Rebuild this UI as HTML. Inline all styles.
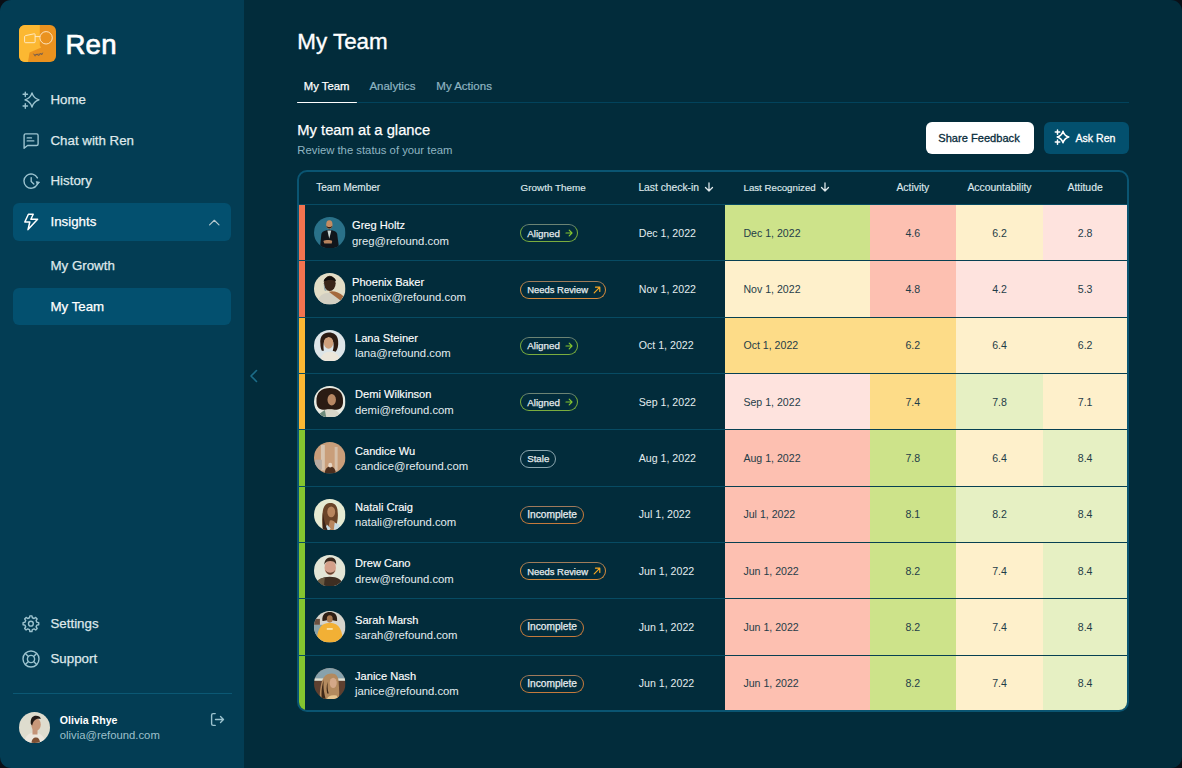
<!DOCTYPE html>
<html><head><meta charset="utf-8"><style>
html,body{margin:0;padding:0;width:1182px;height:768px;overflow:hidden;background:#0a0f16}
.app{position:absolute;left:0;top:0;width:1182px;height:768px;border-radius:11px;overflow:hidden;font-family:"Liberation Sans", sans-serif}
.t{position:absolute;white-space:nowrap;line-height:normal}
</style></head><body><div class="app">
<div style="position:absolute;left:0;top:0;width:244px;height:768px;background:#033d54"></div><svg style="position:absolute;left:19px;top:25px" width="37" height="37" viewBox="0 0 37 37">
<defs><clipPath id="lc"><rect width="37" height="37" rx="6"/></clipPath></defs>
<g clip-path="url(#lc)">
<rect width="37" height="37" fill="#ea921f"/>
<path d="M0 0 H20.8 V20.5 L22.2 22.6 L10.6 27.4 L9 37 H0 Z" fill="#fcb832"/>
</g>
<path d="M6.6 10.6 Q5.6 10.8 5.6 11.8 V16.8 Q5.6 17.7 6.6 17.7 H15.2 Q16.1 17.7 16.1 16.8 V9.6 Q16.1 8.6 15.1 8.8 Z" fill="none" stroke="#fff1d8" stroke-width="0.85" stroke-linejoin="round"/>
<line x1="16.1" y1="11.6" x2="20.9" y2="11.6" stroke="#fff1d8" stroke-width="0.85"/>
<circle cx="27.1" cy="12.8" r="6.2" fill="none" stroke="#fff1d8" stroke-width="0.85"/>
<path d="M14.4 28.6 L16.2 31.2 L17.9 28.9 L19.6 31 L21.4 28.4 L22.8 29.9 L23.8 27.6 M15.2 29.8 L23.2 28.7" fill="none" stroke="#6e5b52" stroke-width="0.75" stroke-linejoin="round"/>
</svg><div class="t" style="left:65.4px;top:28.82px;font-size:27.6px;color:#ffffff;font-weight:normal;-webkit-text-stroke:0.7px #fff;letter-spacing:0.3px;">Ren</div>
<div style="position:absolute;left:12.7px;top:203px;width:218.5px;height:37.8px;border-radius:6px;background:#03506f"></div><div style="position:absolute;left:12.7px;top:288px;width:218.5px;height:36.7px;border-radius:6px;background:#03506f"></div><svg style="position:absolute;left:21px;top:91px" width="20" height="20" viewBox="0 0 20 20">
<path d="M11 1.9 Q12.6 7.3 18 8.9 Q12.6 10.5 11 16 Q9.4 10.5 4 8.9 Q9.4 7.3 11 1.9 Z" stroke="#9cc3cf" stroke-width="1.4" fill="none" stroke-linecap="round" stroke-linejoin="round"/>
<path d="M4.3 1.1 v4.4 M2.1 3.3 h4.4 M4.3 12.8 v4.4 M2.1 15 h4.4" stroke="#9cc3cf" stroke-width="1.4" fill="none" stroke-linecap="round" stroke-linejoin="round"/>
</svg><svg style="position:absolute;left:21px;top:132px" width="20" height="20" viewBox="0 0 20 20">
<path d="M3.1 16.2 V3.4 Q3.1 1.9 4.6 1.9 H15.6 Q17.1 1.9 17.1 3.4 V12 Q17.1 13.5 15.6 13.5 H6.5 Z" stroke="#9cc3cf" stroke-width="1.4" fill="none" stroke-linecap="round" stroke-linejoin="round"/>
<path d="M6.2 5.9 h4.3 M6.2 8.9 h6.6" stroke="#9cc3cf" stroke-width="1.4" fill="none" stroke-linecap="round" stroke-linejoin="round"/>
</svg><svg style="position:absolute;left:21px;top:172px" width="20" height="20" viewBox="0 0 20 20">
<path d="M16.2 12.6 A7.1 7.1 0 1 1 16.4 5.9" stroke="#9cc3cf" stroke-width="1.4" fill="none" stroke-linecap="round" stroke-linejoin="round"/>
<path d="M10.2 5.6 V9.6 L12.8 12" stroke="#9cc3cf" stroke-width="1.4" fill="none" stroke-linecap="round" stroke-linejoin="round"/>
<path d="M15.2 9.6 L18.6 10.2 L16.3 12.9 Z" fill="#9cc3cf" stroke="#9cc3cf" stroke-width="0.8" stroke-linejoin="round"/>
</svg><svg style="position:absolute;left:21px;top:212px" width="20" height="20" viewBox="0 0 20 20">
<path d="M7.4 2.3 H12.2 L9.9 7.3 H16.6 L7 17.6 L8.8 10 H3.8 Z" stroke="#ffffff" stroke-width="1.5" fill="none" stroke-linejoin="round"/>
</svg><svg style="position:absolute;left:207px;top:216px" width="14" height="12" viewBox="0 0 14 12">
<path d="M2.6 8.9 L7.3 4.3 L12 8.9" stroke="#b5c8ce" stroke-width="1.2" fill="none" stroke-linecap="round" stroke-linejoin="round"/>
</svg><svg style="position:absolute;left:21px;top:614px" width="20" height="20" viewBox="0 0 20 20">
<circle cx="9.9" cy="9.7" r="2.4" stroke="#9cc3cf" stroke-width="1.4" fill="none" stroke-linecap="round" stroke-linejoin="round"/>
<path d="M8.48 3.77 L8.85 1.87 L10.95 1.87 L11.32 3.77 L13.09 4.50 L14.69 3.42 L16.18 4.91 L15.10 6.51 L15.83 8.28 L17.73 8.65 L17.73 10.75 L15.83 11.12 L15.10 12.89 L16.18 14.49 L14.69 15.98 L13.09 14.90 L11.32 15.63 L10.95 17.53 L8.85 17.53 L8.48 15.63 L6.71 14.90 L5.11 15.98 L3.62 14.49 L4.70 12.89 L3.97 11.12 L2.07 10.75 L2.07 8.65 L3.97 8.28 L4.70 6.51 L3.62 4.91 L5.11 3.42 L6.71 4.50 Z" stroke="#9cc3cf" stroke-width="1.4" fill="none" stroke-linecap="round" stroke-linejoin="round"/>
</svg><svg style="position:absolute;left:21px;top:649px" width="20" height="20" viewBox="0 0 20 20">
<circle cx="10" cy="10" r="8" stroke="#9cc3cf" stroke-width="1.4" fill="none" stroke-linecap="round" stroke-linejoin="round"/>
<circle cx="10" cy="10" r="3.6" stroke="#9cc3cf" stroke-width="1.4" fill="none" stroke-linecap="round" stroke-linejoin="round"/>
<path d="M4.4 4.4 L7.4 7.4 M15.6 4.4 L12.6 7.4 M4.4 15.6 L7.4 12.6 M15.6 15.6 L12.6 12.6" stroke="#9cc3cf" stroke-width="1.4" fill="none" stroke-linecap="round" stroke-linejoin="round"/>
</svg><div class="t" style="left:50.5px;top:92.16px;font-size:13.3px;color:#dfe8eb;font-weight:normal;-webkit-text-stroke:0.25px #dfe8eb;">Home</div>
<div class="t" style="left:50.5px;top:132.76px;font-size:13.3px;color:#dfe8eb;font-weight:normal;-webkit-text-stroke:0.25px #dfe8eb;">Chat with Ren</div>
<div class="t" style="left:50.5px;top:172.96px;font-size:13.3px;color:#dfe8eb;font-weight:normal;-webkit-text-stroke:0.25px #dfe8eb;">History</div>
<div class="t" style="left:50.5px;top:214.16px;font-size:13.3px;color:#ffffff;font-weight:normal;-webkit-text-stroke:0.25px #ffffff;">Insights</div>
<div class="t" style="left:50.5px;top:258.36px;font-size:13.3px;color:#dfe8eb;font-weight:normal;-webkit-text-stroke:0.25px #dfe8eb;">My Growth</div>
<div class="t" style="left:50.5px;top:298.96px;font-size:13.3px;color:#ffffff;font-weight:normal;-webkit-text-stroke:0.25px #ffffff;">My Team</div>
<div class="t" style="left:50.5px;top:616.16px;font-size:13.3px;color:#dfe8eb;font-weight:normal;-webkit-text-stroke:0.25px #dfe8eb;">Settings</div>
<div class="t" style="left:50.5px;top:650.96px;font-size:13.3px;color:#dfe8eb;font-weight:normal;-webkit-text-stroke:0.25px #dfe8eb;">Support</div>
<div style="position:absolute;left:12.7px;top:692.6px;width:219px;height:1px;background:#0b5874"></div><svg style="position:absolute;left:18.8px;top:711.6px" width="31" height="31" viewBox="0 0 31 31">
<defs><clipPath id="ua"><circle cx="15.5" cy="15.5" r="15.5"/></clipPath></defs>
<g clip-path="url(#ua)">
<rect width="31" height="31" fill="#dedcce"/>
<path d="M5 31 C6 24 10 20.5 15 20.5 C20 20.5 25 23 27 31 Z" fill="#ece6dc"/>
<rect x="13.5" y="15.5" width="5" height="7" fill="#c49478"/>
<ellipse cx="17" cy="12.5" rx="4.8" ry="6.2" fill="#c9987a"/>
<path d="M11.8 12 C11 6 14 3.8 17 3.8 C19.5 3.8 21.5 5 21.8 7 C18.5 6.2 14.5 7 13.2 13.5 Z" fill="#231a16"/>
<path d="M12.5 31 C12.5 27.5 14.5 25.5 17 25.5 C19.5 25.5 21 27.5 21 31 Z" fill="#7e5034"/>
</g></svg><div class="t" style="left:59.8px;top:714.31px;font-size:10.6px;color:#ffffff;font-weight:bold;">Olivia Rhye</div>
<div class="t" style="left:59.8px;top:728.77px;font-size:11.3px;color:#9dc0cb;font-weight:normal;">olivia@refound.com</div>
<svg style="position:absolute;left:208px;top:711px" width="18" height="17" viewBox="0 0 18 17">
<path d="M7.2 2.6 H5.2 Q3.6 2.6 3.6 4.2 V12.8 Q3.6 14.4 5.2 14.4 H7.2" stroke="#9cc3cf" stroke-width="1.4" fill="none" stroke-linecap="round" stroke-linejoin="round"/>
<path d="M7.5 8.5 H15.5 M12.5 5.5 L15.5 8.5 L12.5 11.5" stroke="#9cc3cf" stroke-width="1.4" fill="none" stroke-linecap="round" stroke-linejoin="round"/>
</svg><div style="position:absolute;left:244px;top:0;width:938px;height:768px;background:#022c3b"></div><svg style="position:absolute;left:247px;top:368px" width="14" height="16" viewBox="0 0 14 16">
<path d="M9.5 2.5 L4 8 L9.5 13.5" stroke="#1c6c88" stroke-width="1.6" fill="none" stroke-linecap="round" stroke-linejoin="round"/>
</svg><div class="t" style="left:297.3px;top:28.53px;font-size:22.4px;color:#ffffff;font-weight:normal;-webkit-text-stroke:0.35px #fff;">My Team</div>
<div class="t" style="left:303.8px;top:79.77px;font-size:11.3px;color:#ffffff;font-weight:normal;-webkit-text-stroke:0.25px #fff;">My Team</div>
<div class="t" style="left:369.4px;top:79.59px;font-size:11.5px;color:#8fb5c2;font-weight:normal;-webkit-text-stroke:0.2px #8fb5c2;">Analytics</div>
<div class="t" style="left:436.3px;top:79.59px;font-size:11.5px;color:#8fb5c2;font-weight:normal;-webkit-text-stroke:0.2px #8fb5c2;">My Actions</div>
<div style="position:absolute;left:357px;top:101.6px;width:772px;height:1.8px;background:#02435c"></div><div style="position:absolute;left:297px;top:101.6px;width:60px;height:1.8px;background:#ffffff;border-radius:1px"></div><div class="t" style="left:297.3px;top:122.05px;font-size:14.75px;color:#ffffff;font-weight:normal;-webkit-text-stroke:0.25px #fff;">My team at a glance</div>
<div class="t" style="left:297.3px;top:144.07px;font-size:11.3px;color:#8fb5c2;font-weight:normal;">Review the status of your team</div>
<div style="position:absolute;left:925.5px;top:122px;width:108.5px;height:31.5px;border-radius:6px;background:#ffffff"></div><div class="t" style="left:938.3px;top:131.55px;font-size:11.1px;color:#072c3b;font-weight:normal;-webkit-text-stroke:0.3px #072c3b;">Share Feedback</div>
<div style="position:absolute;left:1043.5px;top:122px;width:85.5px;height:31.5px;border-radius:6px;background:#03506e"></div><svg style="position:absolute;left:1053px;top:127.9px" width="18" height="18" viewBox="0 0 18 18">
<path d="M10 3.2 Q11.3 7.7 15.8 9 Q11.3 10.3 10 14.8 Q8.7 10.3 4.2 9 Q8.7 7.7 10 3.2 Z" stroke="#fff" stroke-width="1.5" fill="none" stroke-linejoin="round"/>
<path d="M4.5 1.9 v4.4 M2.3 4.1 h4.4 M4.5 11.9 v4.4 M2.3 14.1 h4.4" stroke="#fff" stroke-width="1.5" fill="none" stroke-linecap="round"/>
</svg><div class="t" style="left:1075.4px;top:132.01px;font-size:10.6px;color:#ffffff;font-weight:normal;-webkit-text-stroke:0.3px #fff;">Ask Ren</div>
<div style="position:absolute;left:297px;top:170px;width:832px;height:542px;box-sizing:border-box;border:2px solid #0a5572;border-radius:10px;overflow:hidden"><div class="t" style="left:17.19999999999999px;top:9.95px;font-size:10px;color:#dfe8eb;font-weight:normal;-webkit-text-stroke:0.15px #dfe8eb;">Team Member</div>
<div class="t" style="left:221.60000000000002px;top:10.04px;font-size:9.9px;color:#dfe8eb;font-weight:normal;-webkit-text-stroke:0.15px #dfe8eb;">Growth Theme</div>
<div class="t" style="left:339.4px;top:9.68px;font-size:10.3px;color:#dfe8eb;font-weight:normal;-webkit-text-stroke:0.15px #dfe8eb;">Last check-in</div>
<div class="t" style="left:444.5px;top:10.22px;font-size:9.7px;color:#dfe8eb;font-weight:normal;-webkit-text-stroke:0.15px #dfe8eb;">Last Recognized</div>
<svg style="position:absolute;left:405.4px;top:10px" width="10" height="11" viewBox="0 0 9 11"><path d="M4.5 1 V9 M1 5.5 L4.5 9 L8 5.5" stroke="#dfe8eb" stroke-width="1.3" fill="none" stroke-linecap="round" stroke-linejoin="round"/></svg><svg style="position:absolute;left:520.8px;top:10px" width="10" height="11" viewBox="0 0 9 11"><path d="M4.5 1 V9 M1 5.5 L4.5 9 L8 5.5" stroke="#dfe8eb" stroke-width="1.3" fill="none" stroke-linecap="round" stroke-linejoin="round"/></svg><div class="t" style="left:573.85px;width:80px;text-align:center;top:9.59px;font-size:10.4px;color:#dfe8eb;font-weight:normal;-webkit-text-stroke:0.15px #dfe8eb;">Activity</div>
<div class="t" style="left:657.50px;width:86px;text-align:center;top:9.59px;font-size:10.4px;color:#dfe8eb;font-weight:normal;-webkit-text-stroke:0.15px #dfe8eb;">Accountability</div>
<div class="t" style="left:746.10px;width:80px;text-align:center;top:9.59px;font-size:10.4px;color:#dfe8eb;font-weight:normal;-webkit-text-stroke:0.15px #dfe8eb;">Attitude</div>
<div style="position:absolute;left:0.00px;top:32.00px;width:425.80px;height:1.00px;background:rgba(10,85,114,0.75);"></div><div style="position:absolute;left:425.80px;top:32.00px;width:402.40px;height:1.00px;background:rgba(10,85,114,0.75);"></div><div style="position:absolute;left:0.00px;top:33.00px;width:6.00px;height:55.33px;background:#f4734f;"></div><div style="position:absolute;left:425.80px;top:33.00px;width:145.00px;height:55.33px;background:#cde38a;"></div><div style="position:absolute;left:570.80px;top:33.00px;width:86.10px;height:55.33px;background:#fdc0b1;"></div><div style="position:absolute;left:656.90px;top:33.00px;width:87.20px;height:55.33px;background:#fef0cb;"></div><div style="position:absolute;left:744.10px;top:33.00px;width:84.10px;height:55.33px;background:#fee3de;"></div><svg style="position:absolute;left:15.20px;top:44.90px" width="31.5" height="31.5" viewBox="0 0 32 32"><defs><clipPath id="av0"><circle cx="16" cy="16" r="16"/></clipPath></defs><g clip-path="url(#av0)"><rect width="32" height="32" fill="#2a7189"/>
<path d="M6 32 L7.5 17 C8.5 14.5 11.5 13.5 15.5 13 C19.5 13.5 22.5 14.5 23.5 17 L25.5 32 Z" fill="#10151b"/>
<path d="M13.6 13.8 L15.5 22 L17.6 13.8 Z" fill="#c8d4d2"/>
<ellipse cx="15.6" cy="7.6" rx="3.2" ry="4.4" fill="#c48c62"/>
<path d="M12.6 8.8 C13 12.5 18.2 12.5 18.6 8.8 C17.5 10.5 13.7 10.5 12.6 8.8 Z" fill="#2a1c14"/>
<path d="M9.5 24.5 C11.5 23 17 23 18.5 24.5 L18 27 L10.5 27 Z" fill="#b8845e"/>
</g></svg><div class="t" style="left:53px;top:47.35px;font-size:11.1px;color:#ffffff;font-weight:normal;-webkit-text-stroke:0.15px #fff;">Greg Holtz</div>
<div class="t" style="left:53px;top:62.67px;font-size:11.3px;color:#e3ecef;font-weight:normal;">greg@refound.com</div>
<div style="position:absolute;left:221.40px;top:52.20px;width:57.5px;height:18px;box-sizing:border-box;border:1px solid #7aad3e;border-top-color:#6c8474;border-radius:9px"><div class="t" style="left:6px;top:-11.57px;font-size:9.8px;color:#eef3f4;font-weight:bold"></div></div><div class="t" style="left:228.20000000000005px;top:55.53px;font-size:9.8px;color:#e6edef;font-weight:normal;-webkit-text-stroke:0.25px #e6edef;">Aligned</div>
<div style="position:absolute;left:221.40px;top:52.20px;width:57.5px;height:18px"><svg style="position:absolute;left:44.5px;top:5px" width="8" height="8" viewBox="0 0 8 8"><path d="M1 4 H7 M4.2 1.2 L7 4 L4.2 6.8" stroke="#84c52f" stroke-width="1.2" fill="none" stroke-linecap="round" stroke-linejoin="round"/></svg></div><div class="t" style="left:339.79999999999995px;top:54.81px;font-size:10.6px;color:#e3ecef;font-weight:normal;">Dec 1, 2022</div>
<div class="t" style="left:444.4px;top:54.81px;font-size:10.6px;color:#1f3d48;font-weight:normal;">Dec 1, 2022</div>
<div class="t" style="left:583.85px;width:60px;text-align:center;top:54.81px;font-size:10.6px;color:#1f3d48;font-weight:normal;">4.6</div>
<div class="t" style="left:670.50px;width:60px;text-align:center;top:54.81px;font-size:10.6px;color:#1f3d48;font-weight:normal;">6.2</div>
<div class="t" style="left:756.15px;width:60px;text-align:center;top:54.81px;font-size:10.6px;color:#1f3d48;font-weight:normal;">2.8</div>
<div style="position:absolute;left:0.00px;top:88.33px;width:425.80px;height:1.00px;background:rgba(10,85,114,0.75);"></div><div style="position:absolute;left:425.80px;top:88.33px;width:402.40px;height:1.00px;background:rgba(12,80,100,0.58);"></div><div style="position:absolute;left:0.00px;top:89.33px;width:6.00px;height:55.33px;background:#f4734f;"></div><div style="position:absolute;left:425.80px;top:89.33px;width:145.00px;height:55.33px;background:#fef0cb;"></div><div style="position:absolute;left:570.80px;top:89.33px;width:86.10px;height:55.33px;background:#fdc0b1;"></div><div style="position:absolute;left:656.90px;top:89.33px;width:87.20px;height:55.33px;background:#fee3de;"></div><div style="position:absolute;left:744.10px;top:89.33px;width:84.10px;height:55.33px;background:#fee3de;"></div><svg style="position:absolute;left:15.20px;top:101.23px" width="31.5" height="31.5" viewBox="0 0 32 32"><defs><clipPath id="av1"><circle cx="16" cy="16" r="16"/></clipPath></defs><g clip-path="url(#av1)"><rect width="32" height="32" fill="#e2ddc6"/>
<path d="M3 32 C4 23 9 20 16 20 C23 20 28 22 31 27 L31 32 Z" fill="#d2cfc2"/>
<path d="M15 19 C19 17.5 25 19 30 23.5 L27 28 Z" fill="#a4693e"/>
<ellipse cx="16" cy="10.5" rx="6" ry="7.8" fill="#3a2518"/>
<path d="M9.8 9 C10 2.5 22 2 22.3 8.5 C19 6.5 13 6.5 9.8 9 Z" fill="#120d0a"/>
<path d="M10.2 10 C10.5 14 11.5 17 13 18 L11 18 C10 16 9.8 13 10.2 10 Z" fill="#8aa0a8"/>
</g></svg><div class="t" style="left:53px;top:103.68px;font-size:11.1px;color:#ffffff;font-weight:normal;-webkit-text-stroke:0.15px #fff;">Phoenix Baker</div>
<div class="t" style="left:53px;top:119.00px;font-size:11.3px;color:#e3ecef;font-weight:normal;">phoenix@refound.com</div>
<div style="position:absolute;left:221.40px;top:108.53px;width:85.6px;height:18px;box-sizing:border-box;border:1px solid #d48a3e;border-top-color:#a07c5a;border-radius:9px"><div class="t" style="left:6px;top:-11.57px;font-size:9.8px;color:#eef3f4;font-weight:bold"></div></div><div class="t" style="left:228.20000000000005px;top:112.18px;font-size:9.45px;color:#e6edef;font-weight:normal;-webkit-text-stroke:0.25px #e6edef;">Needs Review</div>
<div style="position:absolute;left:221.40px;top:108.53px;width:85.6px;height:18px"><svg style="position:absolute;left:72.5px;top:5px" width="8" height="8" viewBox="0 0 8 8"><path d="M1.2 6.8 L6.8 1.2 M2.5 1.2 H6.8 V5.5" stroke="#f5a623" stroke-width="1.2" fill="none" stroke-linecap="round" stroke-linejoin="round"/></svg></div><div class="t" style="left:339.79999999999995px;top:111.14px;font-size:10.6px;color:#e3ecef;font-weight:normal;">Nov 1, 2022</div>
<div class="t" style="left:444.4px;top:111.14px;font-size:10.6px;color:#1f3d48;font-weight:normal;">Nov 1, 2022</div>
<div class="t" style="left:583.85px;width:60px;text-align:center;top:111.14px;font-size:10.6px;color:#1f3d48;font-weight:normal;">4.8</div>
<div class="t" style="left:670.50px;width:60px;text-align:center;top:111.14px;font-size:10.6px;color:#1f3d48;font-weight:normal;">4.2</div>
<div class="t" style="left:756.15px;width:60px;text-align:center;top:111.14px;font-size:10.6px;color:#1f3d48;font-weight:normal;">5.3</div>
<div style="position:absolute;left:0.00px;top:144.66px;width:425.80px;height:1.00px;background:rgba(10,85,114,0.75);"></div><div style="position:absolute;left:425.80px;top:144.66px;width:402.40px;height:1.00px;background:rgba(12,80,100,0.58);"></div><div style="position:absolute;left:0.00px;top:145.66px;width:6.00px;height:55.33px;background:#fdb733;"></div><div style="position:absolute;left:425.80px;top:145.66px;width:145.00px;height:55.33px;background:#fddc88;"></div><div style="position:absolute;left:570.80px;top:145.66px;width:86.10px;height:55.33px;background:#fddc88;"></div><div style="position:absolute;left:656.90px;top:145.66px;width:87.20px;height:55.33px;background:#fef0cb;"></div><div style="position:absolute;left:744.10px;top:145.66px;width:84.10px;height:55.33px;background:#fef0cb;"></div><svg style="position:absolute;left:15.20px;top:157.56px" width="31.5" height="31.5" viewBox="0 0 32 32"><defs><clipPath id="av2"><circle cx="16" cy="16" r="16"/></clipPath></defs><g clip-path="url(#av2)"><rect width="32" height="32" fill="#dde5e8"/>
<path d="M6 32 C7 25 11 22 16 22 C21 22 26 25 27 32 Z" fill="#ece6da"/>
<path d="M6.5 14 C5.5 6 10 2.5 15 2.5 C20 2.5 24 5 24.5 11 C25 16 24 20 22 22 L19 21 C21 16 20 8 15 8 C10 8 9 14 10 21 L8 21 C7 19 6.5 17 6.5 14 Z" fill="#2c1b12"/>
<ellipse cx="14.8" cy="13" rx="4.8" ry="6" fill="#cfa07c"/>
<path d="M10 6 C12 4 18 4 21 7 C18 6.5 13 6.5 10 9 Z" fill="#2c1b12"/>
</g></svg><div class="t" style="left:56px;top:160.01px;font-size:11.1px;color:#ffffff;font-weight:normal;-webkit-text-stroke:0.15px #fff;">Lana Steiner</div>
<div class="t" style="left:56px;top:175.33px;font-size:11.3px;color:#e3ecef;font-weight:normal;">lana@refound.com</div>
<div style="position:absolute;left:221.40px;top:164.86px;width:57.5px;height:18px;box-sizing:border-box;border:1px solid #7aad3e;border-top-color:#6c8474;border-radius:9px"><div class="t" style="left:6px;top:-11.57px;font-size:9.8px;color:#eef3f4;font-weight:bold"></div></div><div class="t" style="left:228.20000000000005px;top:168.19px;font-size:9.8px;color:#e6edef;font-weight:normal;-webkit-text-stroke:0.25px #e6edef;">Aligned</div>
<div style="position:absolute;left:221.40px;top:164.86px;width:57.5px;height:18px"><svg style="position:absolute;left:44.5px;top:5px" width="8" height="8" viewBox="0 0 8 8"><path d="M1 4 H7 M4.2 1.2 L7 4 L4.2 6.8" stroke="#84c52f" stroke-width="1.2" fill="none" stroke-linecap="round" stroke-linejoin="round"/></svg></div><div class="t" style="left:339.79999999999995px;top:167.47px;font-size:10.6px;color:#e3ecef;font-weight:normal;">Oct 1, 2022</div>
<div class="t" style="left:444.4px;top:167.47px;font-size:10.6px;color:#1f3d48;font-weight:normal;">Oct 1, 2022</div>
<div class="t" style="left:583.85px;width:60px;text-align:center;top:167.47px;font-size:10.6px;color:#1f3d48;font-weight:normal;">6.2</div>
<div class="t" style="left:670.50px;width:60px;text-align:center;top:167.47px;font-size:10.6px;color:#1f3d48;font-weight:normal;">6.4</div>
<div class="t" style="left:756.15px;width:60px;text-align:center;top:167.47px;font-size:10.6px;color:#1f3d48;font-weight:normal;">6.2</div>
<div style="position:absolute;left:0.00px;top:200.99px;width:425.80px;height:1.00px;background:rgba(10,85,114,0.75);"></div><div style="position:absolute;left:425.80px;top:200.99px;width:402.40px;height:1.00px;background:rgba(12,80,100,0.58);"></div><div style="position:absolute;left:0.00px;top:201.99px;width:6.00px;height:55.33px;background:#fdb733;"></div><div style="position:absolute;left:425.80px;top:201.99px;width:145.00px;height:55.33px;background:#fee3de;"></div><div style="position:absolute;left:570.80px;top:201.99px;width:86.10px;height:55.33px;background:#fddc88;"></div><div style="position:absolute;left:656.90px;top:201.99px;width:87.20px;height:55.33px;background:#e6f0c3;"></div><div style="position:absolute;left:744.10px;top:201.99px;width:84.10px;height:55.33px;background:#fef0cb;"></div><svg style="position:absolute;left:15.20px;top:213.89px" width="31.5" height="31.5" viewBox="0 0 32 32"><defs><clipPath id="av3"><circle cx="16" cy="16" r="16"/></clipPath></defs><g clip-path="url(#av3)"><rect width="32" height="32" fill="#e8ebe2"/>
<path d="M2.5 16 C2 6 8 2 16 2 C24 2 30 6 29.5 16 C29.5 21 27 24 23 24 L9 24 C5 24 2.5 21 2.5 16 Z" fill="#2a1b13"/>
<ellipse cx="18" cy="14" rx="4.3" ry="5.8" fill="#b88864"/>
<path d="M5 32 C6 26 10 23.5 16 23.5 C22 23.5 26 26 27 32 Z" fill="#d8d6c8"/>
<path d="M6 28 L11 24.5 L12.5 32 L6 32 Z" fill="#6e8c7c"/>
</g></svg><div class="t" style="left:56px;top:216.34px;font-size:11.1px;color:#ffffff;font-weight:normal;-webkit-text-stroke:0.15px #fff;">Demi Wilkinson</div>
<div class="t" style="left:56px;top:231.66px;font-size:11.3px;color:#e3ecef;font-weight:normal;">demi@refound.com</div>
<div style="position:absolute;left:221.40px;top:221.19px;width:57.5px;height:18px;box-sizing:border-box;border:1px solid #7aad3e;border-top-color:#6c8474;border-radius:9px"><div class="t" style="left:6px;top:-11.57px;font-size:9.8px;color:#eef3f4;font-weight:bold"></div></div><div class="t" style="left:228.20000000000005px;top:224.52px;font-size:9.8px;color:#e6edef;font-weight:normal;-webkit-text-stroke:0.25px #e6edef;">Aligned</div>
<div style="position:absolute;left:221.40px;top:221.19px;width:57.5px;height:18px"><svg style="position:absolute;left:44.5px;top:5px" width="8" height="8" viewBox="0 0 8 8"><path d="M1 4 H7 M4.2 1.2 L7 4 L4.2 6.8" stroke="#84c52f" stroke-width="1.2" fill="none" stroke-linecap="round" stroke-linejoin="round"/></svg></div><div class="t" style="left:339.79999999999995px;top:223.80px;font-size:10.6px;color:#e3ecef;font-weight:normal;">Sep 1, 2022</div>
<div class="t" style="left:444.4px;top:223.80px;font-size:10.6px;color:#1f3d48;font-weight:normal;">Sep 1, 2022</div>
<div class="t" style="left:583.85px;width:60px;text-align:center;top:223.80px;font-size:10.6px;color:#1f3d48;font-weight:normal;">7.4</div>
<div class="t" style="left:670.50px;width:60px;text-align:center;top:223.80px;font-size:10.6px;color:#1f3d48;font-weight:normal;">7.8</div>
<div class="t" style="left:756.15px;width:60px;text-align:center;top:223.80px;font-size:10.6px;color:#1f3d48;font-weight:normal;">7.1</div>
<div style="position:absolute;left:0.00px;top:257.32px;width:425.80px;height:1.00px;background:rgba(10,85,114,0.75);"></div><div style="position:absolute;left:425.80px;top:257.32px;width:402.40px;height:1.00px;background:rgba(12,80,100,0.58);"></div><div style="position:absolute;left:0.00px;top:258.32px;width:6.00px;height:55.33px;background:#84c52f;"></div><div style="position:absolute;left:425.80px;top:258.32px;width:145.00px;height:55.33px;background:#fdc0b1;"></div><div style="position:absolute;left:570.80px;top:258.32px;width:86.10px;height:55.33px;background:#cde38a;"></div><div style="position:absolute;left:656.90px;top:258.32px;width:87.20px;height:55.33px;background:#fef0cb;"></div><div style="position:absolute;left:744.10px;top:258.32px;width:84.10px;height:55.33px;background:#e6f0c3;"></div><svg style="position:absolute;left:15.20px;top:270.22px" width="31.5" height="31.5" viewBox="0 0 32 32"><defs><clipPath id="av4"><circle cx="16" cy="16" r="16"/></clipPath></defs><g clip-path="url(#av4)"><rect width="32" height="32" fill="#c99e7a"/>
<rect x="7" y="3" width="4" height="26" fill="#d8c4b0"/>
<rect x="21" y="5" width="3" height="24" fill="#d6c0aa"/>
<rect x="1" y="18" width="7" height="10" fill="#b8aca2"/>
<path d="M11 32 C11 27.5 13.5 25 16.5 25 C19.5 25 22 27.5 22 32 Z" fill="#4a2e1e"/>
<ellipse cx="16.5" cy="23.5" rx="2" ry="2.5" fill="#e6d6c6"/>
</g></svg><div class="t" style="left:56px;top:272.67px;font-size:11.1px;color:#ffffff;font-weight:normal;-webkit-text-stroke:0.15px #fff;">Candice Wu</div>
<div class="t" style="left:56px;top:287.99px;font-size:11.3px;color:#e3ecef;font-weight:normal;">candice@refound.com</div>
<div style="position:absolute;left:221.40px;top:277.52px;width:35.6px;height:18px;box-sizing:border-box;border:1px solid #8aa5ad;border-radius:9px"><div class="t" style="left:6px;top:-11.57px;font-size:9.8px;color:#eef3f4;font-weight:bold"></div></div><div class="t" style="left:228.20000000000005px;top:280.94px;font-size:9.7px;color:#e6edef;font-weight:normal;-webkit-text-stroke:0.25px #e6edef;">Stale</div>
<div class="t" style="left:339.79999999999995px;top:280.13px;font-size:10.6px;color:#e3ecef;font-weight:normal;">Aug 1, 2022</div>
<div class="t" style="left:444.4px;top:280.13px;font-size:10.6px;color:#1f3d48;font-weight:normal;">Aug 1, 2022</div>
<div class="t" style="left:583.85px;width:60px;text-align:center;top:280.13px;font-size:10.6px;color:#1f3d48;font-weight:normal;">7.8</div>
<div class="t" style="left:670.50px;width:60px;text-align:center;top:280.13px;font-size:10.6px;color:#1f3d48;font-weight:normal;">6.4</div>
<div class="t" style="left:756.15px;width:60px;text-align:center;top:280.13px;font-size:10.6px;color:#1f3d48;font-weight:normal;">8.4</div>
<div style="position:absolute;left:0.00px;top:313.65px;width:425.80px;height:1.00px;background:rgba(10,85,114,0.75);"></div><div style="position:absolute;left:425.80px;top:313.65px;width:402.40px;height:1.00px;background:rgba(12,80,100,0.58);"></div><div style="position:absolute;left:0.00px;top:314.65px;width:6.00px;height:55.33px;background:#84c52f;"></div><div style="position:absolute;left:425.80px;top:314.65px;width:145.00px;height:55.33px;background:#fdc0b1;"></div><div style="position:absolute;left:570.80px;top:314.65px;width:86.10px;height:55.33px;background:#cde38a;"></div><div style="position:absolute;left:656.90px;top:314.65px;width:87.20px;height:55.33px;background:#e6f0c3;"></div><div style="position:absolute;left:744.10px;top:314.65px;width:84.10px;height:55.33px;background:#e6f0c3;"></div><svg style="position:absolute;left:15.20px;top:326.55px" width="31.5" height="31.5" viewBox="0 0 32 32"><defs><clipPath id="av5"><circle cx="16" cy="16" r="16"/></clipPath></defs><g clip-path="url(#av5)"><rect width="32" height="32" fill="#e6ead2"/>
<path d="M9 32 C8 24 8 18 9 12 C10 6 13 4 17 4 C21 4 24 7 24 13 C25 20 23 25 22 32 Z" fill="#6a4428"/>
<ellipse cx="17.5" cy="13" rx="4" ry="5.5" fill="#b8865e"/>
<path d="M16 22 C18 21 20 22 22 24 L24 32 L14 32 Z" fill="#b8865e"/>
<path d="M13 26 L17 30 L15 32 L11 32 Z M21 24 L26 26 L25 32 L20 32 Z" fill="#c8dce4"/>
<path d="M9 14 C10 22 12 28 14 32 L9 32 Z" fill="#3a2418"/></g></svg><div class="t" style="left:56px;top:329.00px;font-size:11.1px;color:#ffffff;font-weight:normal;-webkit-text-stroke:0.15px #fff;">Natali Craig</div>
<div class="t" style="left:56px;top:344.32px;font-size:11.3px;color:#e3ecef;font-weight:normal;">natali@refound.com</div>
<div style="position:absolute;left:221.40px;top:333.85px;width:63.7px;height:18px;box-sizing:border-box;border:1px solid #c47a3c;border-top-color:#a07a5c;border-radius:9px"><div class="t" style="left:6px;top:-11.57px;font-size:9.8px;color:#eef3f4;font-weight:bold"></div></div><div class="t" style="left:228.20000000000005px;top:336.82px;font-size:10.2px;color:#e6edef;font-weight:normal;-webkit-text-stroke:0.25px #e6edef;">Incomplete</div>
<div class="t" style="left:339.79999999999995px;top:336.46px;font-size:10.6px;color:#e3ecef;font-weight:normal;">Jul 1, 2022</div>
<div class="t" style="left:444.4px;top:336.46px;font-size:10.6px;color:#1f3d48;font-weight:normal;">Jul 1, 2022</div>
<div class="t" style="left:583.85px;width:60px;text-align:center;top:336.46px;font-size:10.6px;color:#1f3d48;font-weight:normal;">8.1</div>
<div class="t" style="left:670.50px;width:60px;text-align:center;top:336.46px;font-size:10.6px;color:#1f3d48;font-weight:normal;">8.2</div>
<div class="t" style="left:756.15px;width:60px;text-align:center;top:336.46px;font-size:10.6px;color:#1f3d48;font-weight:normal;">8.4</div>
<div style="position:absolute;left:0.00px;top:369.98px;width:425.80px;height:1.00px;background:rgba(10,85,114,0.75);"></div><div style="position:absolute;left:425.80px;top:369.98px;width:402.40px;height:1.00px;background:rgba(12,80,100,0.58);"></div><div style="position:absolute;left:0.00px;top:370.98px;width:6.00px;height:55.33px;background:#84c52f;"></div><div style="position:absolute;left:425.80px;top:370.98px;width:145.00px;height:55.33px;background:#fdc0b1;"></div><div style="position:absolute;left:570.80px;top:370.98px;width:86.10px;height:55.33px;background:#cde38a;"></div><div style="position:absolute;left:656.90px;top:370.98px;width:87.20px;height:55.33px;background:#fef0cb;"></div><div style="position:absolute;left:744.10px;top:370.98px;width:84.10px;height:55.33px;background:#e6f0c3;"></div><svg style="position:absolute;left:15.20px;top:382.88px" width="31.5" height="31.5" viewBox="0 0 32 32"><defs><clipPath id="av6"><circle cx="16" cy="16" r="16"/></clipPath></defs><g clip-path="url(#av6)"><rect width="32" height="32" fill="#e3e5d6"/>
<path d="M2 32 C3 25 8 22 16 22 C24 22 29 25 30 32 Z" fill="#3e2e22"/>
<path d="M3 27 C5 24 8 23 11 23 L10 32 L3 32 Z" fill="#6a5a42"/>
<ellipse cx="16.5" cy="13" rx="5.8" ry="7.5" fill="#d4a08a"/>
<path d="M10.5 10 C10.5 4 14 2.5 17 2.5 C20 2.5 23 4 22.5 10 C21.5 7 19 6 16.5 6 C14 6 11.5 7 10.5 10 Z" fill="#3a281c"/>
<path d="M11.5 15 C12.5 21.5 20.5 21.5 21.5 15 C20 19 13 19 11.5 15 Z" fill="#5e4230"/>
</g></svg><div class="t" style="left:56px;top:385.33px;font-size:11.1px;color:#ffffff;font-weight:normal;-webkit-text-stroke:0.15px #fff;">Drew Cano</div>
<div class="t" style="left:56px;top:400.65px;font-size:11.3px;color:#e3ecef;font-weight:normal;">drew@refound.com</div>
<div style="position:absolute;left:221.40px;top:390.18px;width:85.6px;height:18px;box-sizing:border-box;border:1px solid #d48a3e;border-top-color:#a07c5a;border-radius:9px"><div class="t" style="left:6px;top:-11.57px;font-size:9.8px;color:#eef3f4;font-weight:bold"></div></div><div class="t" style="left:228.20000000000005px;top:393.83px;font-size:9.45px;color:#e6edef;font-weight:normal;-webkit-text-stroke:0.25px #e6edef;">Needs Review</div>
<div style="position:absolute;left:221.40px;top:390.18px;width:85.6px;height:18px"><svg style="position:absolute;left:72.5px;top:5px" width="8" height="8" viewBox="0 0 8 8"><path d="M1.2 6.8 L6.8 1.2 M2.5 1.2 H6.8 V5.5" stroke="#f5a623" stroke-width="1.2" fill="none" stroke-linecap="round" stroke-linejoin="round"/></svg></div><div class="t" style="left:339.79999999999995px;top:392.79px;font-size:10.6px;color:#e3ecef;font-weight:normal;">Jun 1, 2022</div>
<div class="t" style="left:444.4px;top:392.79px;font-size:10.6px;color:#1f3d48;font-weight:normal;">Jun 1, 2022</div>
<div class="t" style="left:583.85px;width:60px;text-align:center;top:392.79px;font-size:10.6px;color:#1f3d48;font-weight:normal;">8.2</div>
<div class="t" style="left:670.50px;width:60px;text-align:center;top:392.79px;font-size:10.6px;color:#1f3d48;font-weight:normal;">7.4</div>
<div class="t" style="left:756.15px;width:60px;text-align:center;top:392.79px;font-size:10.6px;color:#1f3d48;font-weight:normal;">8.4</div>
<div style="position:absolute;left:0.00px;top:426.31px;width:425.80px;height:1.00px;background:rgba(10,85,114,0.75);"></div><div style="position:absolute;left:425.80px;top:426.31px;width:402.40px;height:1.00px;background:rgba(12,80,100,0.58);"></div><div style="position:absolute;left:0.00px;top:427.31px;width:6.00px;height:55.33px;background:#84c52f;"></div><div style="position:absolute;left:425.80px;top:427.31px;width:145.00px;height:55.33px;background:#fdc0b1;"></div><div style="position:absolute;left:570.80px;top:427.31px;width:86.10px;height:55.33px;background:#cde38a;"></div><div style="position:absolute;left:656.90px;top:427.31px;width:87.20px;height:55.33px;background:#fef0cb;"></div><div style="position:absolute;left:744.10px;top:427.31px;width:84.10px;height:55.33px;background:#e6f0c3;"></div><svg style="position:absolute;left:15.20px;top:439.21px" width="31.5" height="31.5" viewBox="0 0 32 32"><defs><clipPath id="av7"><circle cx="16" cy="16" r="16"/></clipPath></defs><g clip-path="url(#av7)"><rect width="32" height="32" fill="#d6d4cc"/>
<rect x="0" y="14" width="9" height="18" fill="#8aa2a8"/>
<rect x="0" y="8" width="6" height="6" fill="#6a5040"/>
<path d="M3 32 C2.5 21 6 12 16 12 C26 12 29.5 21 29 32 Z" fill="#f2b035"/>
<path d="M8.5 10 C8 3 12 1 16 1 C20 1 24 3 23.5 10 C22 11 20 9 16 9 C12 9 10 11 8.5 10 Z" fill="#2e1e14"/>
<ellipse cx="16" cy="8" rx="3" ry="3.6" fill="#a87850"/>
<rect x="13" y="17.5" width="6" height="1.5" fill="#fff0c0"/>
</g></svg><div class="t" style="left:56px;top:441.66px;font-size:11.1px;color:#ffffff;font-weight:normal;-webkit-text-stroke:0.15px #fff;">Sarah Marsh</div>
<div class="t" style="left:56px;top:456.98px;font-size:11.3px;color:#e3ecef;font-weight:normal;">sarah@refound.com</div>
<div style="position:absolute;left:221.40px;top:446.51px;width:63.7px;height:18px;box-sizing:border-box;border:1px solid #c47a3c;border-top-color:#a07a5c;border-radius:9px"><div class="t" style="left:6px;top:-11.57px;font-size:9.8px;color:#eef3f4;font-weight:bold"></div></div><div class="t" style="left:228.20000000000005px;top:449.48px;font-size:10.2px;color:#e6edef;font-weight:normal;-webkit-text-stroke:0.25px #e6edef;">Incomplete</div>
<div class="t" style="left:339.79999999999995px;top:449.12px;font-size:10.6px;color:#e3ecef;font-weight:normal;">Jun 1, 2022</div>
<div class="t" style="left:444.4px;top:449.12px;font-size:10.6px;color:#1f3d48;font-weight:normal;">Jun 1, 2022</div>
<div class="t" style="left:583.85px;width:60px;text-align:center;top:449.12px;font-size:10.6px;color:#1f3d48;font-weight:normal;">8.2</div>
<div class="t" style="left:670.50px;width:60px;text-align:center;top:449.12px;font-size:10.6px;color:#1f3d48;font-weight:normal;">7.4</div>
<div class="t" style="left:756.15px;width:60px;text-align:center;top:449.12px;font-size:10.6px;color:#1f3d48;font-weight:normal;">8.4</div>
<div style="position:absolute;left:0.00px;top:482.64px;width:425.80px;height:1.00px;background:rgba(10,85,114,0.75);"></div><div style="position:absolute;left:425.80px;top:482.64px;width:402.40px;height:1.00px;background:rgba(12,80,100,0.58);"></div><div style="position:absolute;left:0.00px;top:483.64px;width:6.00px;height:55.33px;background:#84c52f;"></div><div style="position:absolute;left:425.80px;top:483.64px;width:145.00px;height:55.33px;background:#fdc0b1;"></div><div style="position:absolute;left:570.80px;top:483.64px;width:86.10px;height:55.33px;background:#cde38a;"></div><div style="position:absolute;left:656.90px;top:483.64px;width:87.20px;height:55.33px;background:#fef0cb;"></div><div style="position:absolute;left:744.10px;top:483.64px;width:84.10px;height:55.33px;background:#e6f0c3;"></div><svg style="position:absolute;left:15.20px;top:495.54px" width="31.5" height="31.5" viewBox="0 0 32 32"><defs><clipPath id="av8"><circle cx="16" cy="16" r="16"/></clipPath></defs><g clip-path="url(#av8)"><rect width="32" height="32" fill="#5e4030"/>
<rect x="0" y="0" width="32" height="11" fill="#88a2ac"/>
<rect x="0" y="10.5" width="32" height="2.5" fill="#dfe2d6"/>
<path d="M6 32 C5.5 24 7 14 10 9.5 C12 6.5 15 5.5 18 5.5 C22.5 5.5 25 9 25 14 C25.5 21 26 27 25 32 Z" fill="#b38a5e"/>
<ellipse cx="19.5" cy="15" rx="3.6" ry="5.2" fill="#d4a888"/>
<path d="M10 12 C9 18 10 25 12 32 L8 32 C7 25 8 18 10 12 Z M14 14 C13.5 19 14 23 15 26 L13.5 26 C12.5 22 12.5 18 14 14 Z" fill="#3e2818"/>
<path d="M13 32 C14 28 18 27 23 28 L25 32 Z" fill="#e6c48e"/>
</g></svg><div class="t" style="left:56px;top:497.99px;font-size:11.1px;color:#ffffff;font-weight:normal;-webkit-text-stroke:0.15px #fff;">Janice Nash</div>
<div class="t" style="left:56px;top:513.31px;font-size:11.3px;color:#e3ecef;font-weight:normal;">janice@refound.com</div>
<div style="position:absolute;left:221.40px;top:502.84px;width:63.7px;height:18px;box-sizing:border-box;border:1px solid #c47a3c;border-top-color:#a07a5c;border-radius:9px"><div class="t" style="left:6px;top:-11.57px;font-size:9.8px;color:#eef3f4;font-weight:bold"></div></div><div class="t" style="left:228.20000000000005px;top:505.81px;font-size:10.2px;color:#e6edef;font-weight:normal;-webkit-text-stroke:0.25px #e6edef;">Incomplete</div>
<div class="t" style="left:339.79999999999995px;top:505.45px;font-size:10.6px;color:#e3ecef;font-weight:normal;">Jun 1, 2022</div>
<div class="t" style="left:444.4px;top:505.45px;font-size:10.6px;color:#1f3d48;font-weight:normal;">Jun 1, 2022</div>
<div class="t" style="left:583.85px;width:60px;text-align:center;top:505.45px;font-size:10.6px;color:#1f3d48;font-weight:normal;">8.2</div>
<div class="t" style="left:670.50px;width:60px;text-align:center;top:505.45px;font-size:10.6px;color:#1f3d48;font-weight:normal;">7.4</div>
<div class="t" style="left:756.15px;width:60px;text-align:center;top:505.45px;font-size:10.6px;color:#1f3d48;font-weight:normal;">8.4</div>
</div>
</div></body></html>
